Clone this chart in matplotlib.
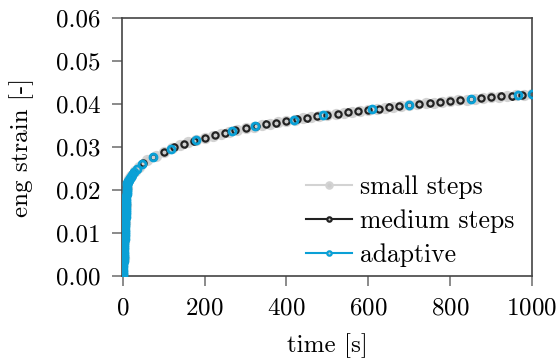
import matplotlib
matplotlib.use("Agg")
import matplotlib.pyplot as plt

plt.rcParams['font.family'] = 'serif'
plt.rcParams['font.serif'] = ['cmr10', 'DejaVu Serif']
plt.rcParams['mathtext.fontset'] = 'cm'
plt.rcParams['axes.formatter.use_mathtext'] = True

# small steps: loading ramp then creep
t_small = [0, 2, 4, 6, 8, 10, 15, 20, 30, 40, 60, 80, 100, 120, 140, 160, 180,
           200, 220, 240, 260, 280, 300, 320, 340, 360, 380, 400, 420, 440,
           460, 480, 500, 520, 540, 560, 580, 600, 620, 640, 660, 680, 700,
           720, 740, 760, 780, 800, 820, 840, 860, 880, 900, 920, 940, 960,
           980, 1000]
e_small = [0.0, 0.0041, 0.0082, 0.0123, 0.0164, 0.0205, 0.02247, 0.02326,
           0.02448, 0.02542, 0.02687, 0.02800, 0.02893, 0.02973, 0.03043,
           0.03107, 0.03165, 0.03218, 0.03267, 0.03314, 0.03357, 0.03398,
           0.03437, 0.03474, 0.03509, 0.03543, 0.03575, 0.03606, 0.03636,
           0.03665, 0.03693, 0.03721, 0.03747, 0.03772, 0.03797, 0.03821,
           0.03844, 0.03867, 0.03890, 0.03911, 0.03933, 0.03954, 0.03974,
           0.03994, 0.04013, 0.04033, 0.04051, 0.04069, 0.04088, 0.04105,
           0.04123, 0.04140, 0.04156, 0.04173, 0.04190, 0.04206, 0.04221,
           0.04237]

# medium steps
t_med = [0, 2.5, 5, 7.5, 10, 25, 50, 75, 100, 125, 150, 175, 200, 225, 250,
         275, 300, 325, 350, 375, 400, 425, 450, 475, 500, 525, 550, 575,
         600, 625, 650, 675, 700, 725, 750, 775, 800, 825, 850, 875, 900,
         925, 950, 975, 1000]
e_med = [0.0, 0.0051, 0.0102, 0.0154, 0.0205, 0.02391, 0.02620, 0.02774,
         0.02893, 0.02991, 0.03076, 0.03151, 0.03218, 0.03279, 0.03336,
         0.03388, 0.03437, 0.03483, 0.03526, 0.03567, 0.03606, 0.03644,
         0.03679, 0.03713, 0.03747, 0.03778, 0.03809, 0.03839, 0.03867,
         0.03895, 0.03922, 0.03948, 0.03974, 0.03999, 0.04023, 0.04047,
         0.04069, 0.04092, 0.04114, 0.04136, 0.04156, 0.04177, 0.04197,
         0.04217, 0.04237]

# adaptive: dense during loading, growing steps afterwards
t_adapt = [0, 0.25, 0.5, 0.75, 1, 1.25, 1.5, 1.75, 2, 2.25, 2.5, 2.75, 3,
           3.25, 3.5, 3.75, 4, 4.25, 4.5, 4.75, 5, 5.25, 5.5, 5.75, 6, 6.25,
           6.5, 6.75, 7, 7.25, 7.5, 7.75, 8, 8.25, 8.5, 8.75, 9, 9.25, 9.5,
           9.75, 10, 10.5, 11, 11.5, 12, 13, 14.5, 16.5, 19, 22, 27, 35, 47,
           73, 117, 180, 267, 324, 418, 490, 609, 700, 852, 967, 1000]
e_adapt = [0.0, 0.0005, 0.001, 0.0015, 0.0021, 0.0026, 0.0031, 0.0036,
           0.0041, 0.0046, 0.0051, 0.0056, 0.0062, 0.0067, 0.0072, 0.0077,
           0.0082, 0.0087, 0.0092, 0.0097, 0.0103, 0.0108, 0.0113, 0.0118,
           0.0123, 0.0128, 0.0133, 0.0138, 0.0144, 0.0149, 0.0154, 0.0159,
           0.0164, 0.0169, 0.0174, 0.0179, 0.0185, 0.0190, 0.0195, 0.0200,
           0.0205, 0.02120, 0.02168, 0.02180, 0.02190, 0.02210, 0.02238,
           0.02273, 0.02312, 0.02354, 0.02415, 0.02498, 0.02598, 0.02763,
           0.02962, 0.03165, 0.03372, 0.03481, 0.03633, 0.03734, 0.03878,
           0.03974, 0.04116, 0.04211, 0.04237]

c_small = '#d3d3d3'
c_med = '#222222'
c_adapt = '#0aa0d6'
face = '#cccccc'

fig = plt.figure(figsize=(5.58, 3.61), dpi=100)
ax = fig.add_axes([0.2186, 0.2355, 0.7348, 0.7145])

# lines underneath, markers on top
ax.plot(t_med, e_med, color=c_med, lw=1.5, marker='o', ms=4.5, mew=1.6,
        mfc=face, label='medium steps', zorder=1)
ax.plot(t_adapt, e_adapt, color=c_adapt, lw=1.5, marker='o', ms=4.5, mew=1.6,
        mfc=face, label='adaptive', zorder=1)
ax.plot(t_small, e_small, color=c_small, lw=1.5, marker='o', ms=6.5, mew=1.6,
        mfc=face, label='small steps', zorder=2)
ax.plot(t_med, e_med, ls='none', marker='o', ms=4.5, mew=1.6, mec=c_med,
        mfc='none', zorder=3)
ax.plot(t_adapt, e_adapt, ls='none', marker='o', ms=5, mew=2.0, mec=c_adapt,
        mfc='none', zorder=4)

ax.set_xlim(-2, 1000)
ax.set_ylim(0, 0.06)
ax.set_xticks([0, 200, 400, 600, 800, 1000])
ax.set_yticks([0, 0.01, 0.02, 0.03, 0.04, 0.05, 0.06])
ax.set_yticklabels(['0.00', '0.01', '0.02', '0.03', '0.04', '0.05', '0.06'])
ax.set_xlabel('time [s]', fontsize=18, labelpad=10)
ax.set_ylabel('eng strain [-]', fontsize=18, labelpad=16)
ax.tick_params(labelsize=18, direction='out', length=7.5, width=1.2,
               color='#777777', pad=8)
for s in ax.spines.values():
    s.set_color('#444444')
    s.set_linewidth(1.2)

h, l = ax.get_legend_handles_labels()
order = [2, 0, 1]
ax.legend([h[i] for i in order], [l[i] for i in order], loc='lower right',
          bbox_to_anchor=(1.0, -0.035), frameon=False, fontsize=18.5,
          handlelength=1.8, handletextpad=0.3, labelspacing=0.4,
          borderaxespad=0.3, markerscale=0.7)

fig.savefig('out.png', dpi=100)
